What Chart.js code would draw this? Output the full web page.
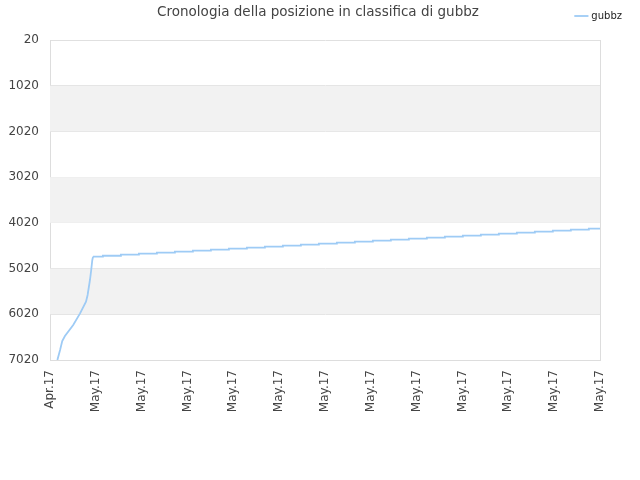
<!DOCTYPE html>
<html>
<head>
<meta charset="utf-8">
<script src="https://cdn.jsdelivr.net/npm/chart.js@4/dist/chart.umd.min.js"></script>
<style>
  html, body { margin: 0; padding: 0; background: #fff; }
  #wrap { width: 640px; height: 480px; }
</style>
</head>
<body>
<div id="wrap"><canvas id="rankChart" width="640" height="480"></canvas></div>
<script>
// x tick labels (month.year)
var tickLabels = ["Apr.17","May.17","May.17","May.17","May.17","May.17","May.17",
                  "May.17","May.17","May.17","May.17","May.17","May.17"];
var lastDay = 30.56;

// first days: fast climb (day, rank)
var climbDays  = [0.41, 0.56, 0.68, 0.83, 1.29, 1.67, 2.00, 2.09, 2.22, 2.29, 2.35, 2.39];
var climbRanks = [7020, 6801, 6604, 6495, 6254, 6000, 5745, 5598, 5270, 5051, 4833, 4760];

// afterwards rank changes once a day
var dailyDays  = [2.39, 2.94, 3.94, 4.94, 5.94, 6.94, 7.94, 8.94, 9.94, 10.94, 11.94, 12.94,
                  13.94, 14.94, 15.94, 16.94, 17.94, 18.94, 19.94, 20.94, 21.94, 22.94,
                  23.94, 24.94, 25.94, 26.94, 27.94, 28.94, 29.94, 30.56];
var dailyRanks = [4760, 4739, 4716, 4695, 4672, 4651, 4629, 4607, 4585, 4563, 4542, 4519,
                  4497, 4476, 4454, 4432, 4410, 4388, 4366, 4344, 4323, 4300,
                  4279, 4257, 4235, 4213, 4191, 4170, 4148, 4148];

var lineColor = "#9ecbf5";

function toPoints(xs, ys) {
  return xs.map(function (x, i) { return {x: x, y: ys[i]}; });
}

// grey bands between every other pair of y grid lines
var bands = {
  id: "bands",
  beforeDatasetsDraw: function (chart) {
    var ctx = chart.ctx, area = chart.chartArea, y = chart.scales.y;
    var ticks = y.ticks;
    ctx.save();
    ctx.fillStyle = "#f2f2f2";
    for (var i = 1; i < ticks.length - 1; i += 2) {
      var a = y.getPixelForValue(ticks[i].value);
      var b = y.getPixelForValue(ticks[i + 1].value);
      ctx.fillRect(area.left, a, area.right - area.left, b - a);
    }
    ctx.restore();
  }
};

Chart.defaults.font.family = "'DejaVu Sans', sans-serif";
Chart.defaults.color = "#444";

// empty axes, only used to reserve space
var spacer = function (pos, axis, size, border) {
  return {
    type: "linear", position: pos, axis: axis, display: true,
    ticks: { display: false },
    grid: { display: false, drawTicks: false },
    border: { display: border, color: "#ddd" },
    afterFit: function (s) { if (axis === "x") { s.height = size; } else { s.width = size; } }
  };
};

new Chart("rankChart", {
  type: "line",
  data: {
    datasets: [{
      label: "gubbz",
      data: toPoints(climbDays, climbRanks),
      borderColor: lineColor,
      backgroundColor: lineColor,
      borderWidth: 1.8,
      pointRadius: 0,
      fill: false,
      tension: 0
    }, {
      label: "",
      data: toPoints(dailyDays, dailyRanks),
      borderColor: lineColor,
      backgroundColor: lineColor,
      borderWidth: 1.8,
      pointRadius: 0,
      fill: false,
      stepped: true
    }]
  },
  plugins: [bands],
  options: {
    responsive: false,
    animation: false,
    layout: { padding: { left: 4, right: 8, top: 0, bottom: 0 } },
    plugins: {
      title: {
        display: true,
        text: "Cronologia della posizione in classifica di gubbz",
        color: "#444",
        font: { size: 13.5, weight: "normal" },
        padding: { top: 4, bottom: -19.2 }
      },
      legend: {
        display: true,
        align: "end",
        labels: {
          usePointStyle: true,
          pointStyle: "line",
          boxWidth: 10,
          font: { size: 10 },
          color: "#222",
          padding: 10,
          filter: function (item) { return item.text !== ""; }
        }
      },
      tooltip: { enabled: false }
    },
    scales: {
      x: {
        type: "linear",
        min: 0,
        max: lastDay,
        afterBuildTicks: function (axis) {
          axis.ticks = tickLabels.map(function (_, i) {
            return { value: i * lastDay / (tickLabels.length - 1) };
          });
        },
        afterFit: function (axis) { axis.height = 120; },
        ticks: {
          autoSkip: false,
          minRotation: 90,
          maxRotation: 90,
          font: { size: 12 },
          color: "#444",
          padding: 10,
          callback: function (v, i) { return tickLabels[i]; }
        },
        grid: { display: false, drawTicks: false },
        border: { display: true, color: "#ddd" }
      },
      y: {
        reverse: true,
        min: 20,
        max: 7020,
        afterFit: function (axis) { axis.width = 46; },
        ticks: {
          stepSize: 1000,
          font: { size: 12 },
          color: "#444",
          padding: 11,
          callback: function (v) { return String(v); }
        },
        grid: { color: "#e0e0e0", drawTicks: false },
        border: { display: true, color: "#ddd" }
      },
      xTop: spacer("top", "x", 9, false),
      yRight: spacer("right", "y", 32, true)
    }
  },
});
</script>
</body>
</html>
